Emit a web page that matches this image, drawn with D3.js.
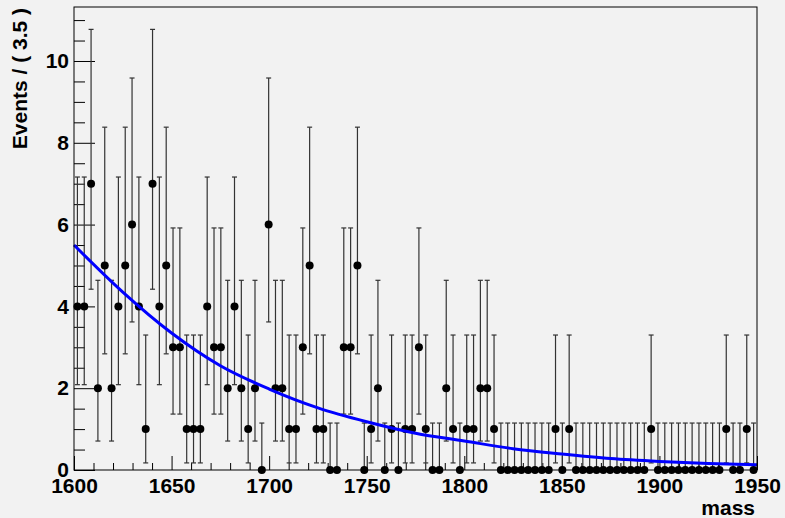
<!DOCTYPE html>
<html>
<head>
<meta charset="utf-8">
<script src="https://cdn.jsdelivr.net/npm/d3@7"></script>
<style>
  body { margin: 0; background: #f2f2f2; }
  svg { display: block; font-family: 'Liberation Sans', Arial, sans-serif; }
</style>
</head>
<body>
<svg id="canvas" width="785" height="518"></svg>
<script>
// events per 3.5 bin, 1600 -> 1950
let massMin = 1600
let massMax = 1950
let binWidth = 3.5
let counts = [
  4, 4, 7, 2, 5, 2, 4, 5, 6, 4,
  1, 7, 4, 5, 3, 3, 1, 1, 1, 4,
  3, 3, 2, 4, 2, 1, 2, 0, 6, 2,
  2, 1, 1, 3, 5, 1, 1, 0, 0, 3,
  3, 5, 0, 1, 2, 0, 1, 0, 1, 1,
  3, 1, 0, 0, 2, 1, 0, 1, 1, 2,
  2, 1, 0, 0, 0, 0, 0, 0, 0, 0,
  1, 0, 1, 0, 0, 0, 0, 0, 0, 0,
  0, 0, 0, 0, 1, 0, 0, 0, 0, 0,
  0, 0, 0, 0, 0, 1, 0, 0, 1, 0
]
// poisson 68% interval for n = 0..7
let poissonLow = [0, 0.173, 0.708, 1.367, 2.086, 2.840, 3.620, 4.420]
let poissonHigh = [1.148, 3.300, 4.638, 5.918, 7.163, 8.382, 9.584, 10.773]

// fitted curve
let curveMass = [1600, 1625, 1650, 1675, 1700, 1725, 1750, 1775, 1800, 1825, 1850, 1875, 1900, 1925, 1950]
let curveValues = [5.5, 4.35, 3.35, 2.55, 1.98, 1.52, 1.18, 0.9, 0.71, 0.52, 0.39, 0.28, 0.21, 0.16, 0.13]

let xTicks = [1600, 1650, 1700, 1750, 1800, 1850, 1900, 1950]
let yTicks = [0, 2, 4, 6, 8, 10]

let canvas = d3.select('#canvas')
let padLeft = 74, padRight = 757, padTop = 7, padBottom = 470

let x = d3.scaleLinear().domain([massMin, massMax]).range([padLeft, padRight])
let y = d3.scaleLinear().domain([0, 11.32]).range([padBottom, padTop])

let binCenter = (i) => massMin + (i + 0.5) * binWidth

// minor ticks
let xMinor = d3.range(massMin, massMax + 0.01, 10).filter(v => !xTicks.includes(v))
let yMinor = d3.range(0, 11.3, 0.5).filter(v => !yTicks.includes(v))

canvas.append('g')
  .attr('transform', `translate(0,${padBottom})`)
  .call(d3.axisBottom(x).tickValues(xMinor).tickSize(-7).tickSizeOuter(0).tickFormat(''))
  .call(g => g.select('.domain').remove())

canvas.append('g')
  .attr('transform', `translate(${padLeft},0)`)
  .call(d3.axisLeft(y).tickValues(yMinor).tickSize(-11).tickSizeOuter(0).tickFormat(''))
  .call(g => g.select('.domain').remove())

let xAxis = canvas.append('g')
  .attr('transform', `translate(0,${padBottom})`)
  .call(d3.axisBottom(x).tickValues(xTicks).tickSize(-14).tickSizeOuter(0).tickPadding(8).tickFormat(d3.format('d')))
xAxis.select('.domain').remove()
xAxis.selectAll('text')
  .attr('font-size', 21)
  .attr('font-weight', 'bold')
  .attr('fill', '#000')

let yAxis = canvas.append('g')
  .attr('transform', `translate(${padLeft},0)`)
  .call(d3.axisLeft(y).tickValues(yTicks).tickSize(-21).tickSizeOuter(0).tickPadding(5))
yAxis.select('.domain').remove()
yAxis.selectAll('text')
  .attr('font-size', 21)
  .attr('font-weight', 'bold')
  .attr('fill', '#000')

// error bars
let bars = canvas.append('g')
  .attr('stroke', '#333')
  .attr('stroke-width', 1.2)

bars.selectAll('line.err')
  .data(counts)
  .enter()
  .append('line')
  .attr('class', 'err')
  .attr('x1', (d, i) => x(binCenter(i)))
  .attr('x2', (d, i) => x(binCenter(i)))
  .attr('y1', (d) => y(poissonLow[d]))
  .attr('y2', (d) => y(poissonHigh[d]))

bars.selectAll('line.capHi')
  .data(counts)
  .enter()
  .append('line')
  .attr('class', 'capHi')
  .attr('x1', (d, i) => x(binCenter(i)) - 2.5)
  .attr('x2', (d, i) => x(binCenter(i)) + 2.5)
  .attr('y1', (d) => y(poissonHigh[d]))
  .attr('y2', (d) => y(poissonHigh[d]))

bars.selectAll('line.capLo')
  .data(counts)
  .enter()
  .append('line')
  .attr('class', 'capLo')
  .attr('x1', (d, i) => x(binCenter(i)) - 2.5)
  .attr('x2', (d, i) => x(binCenter(i)) + 2.5)
  .attr('y1', (d) => y(poissonLow[d]))
  .attr('y2', (d) => y(poissonLow[d]))

canvas.append('g')
  .selectAll('circle')
  .data(counts)
  .enter()
  .append('circle')
  .attr('cx', (d, i) => x(binCenter(i)))
  .attr('cy', (d) => y(d))
  .attr('r', 4)
  .attr('fill', '#000')

// fit curve
canvas.append('path')
  .datum(curveMass)
  .attr('fill', 'none')
  .attr('stroke', '#0000ff')
  .attr('stroke-width', 3)
  .attr('d', d3.line()
    .x((d) => x(d))
    .y((d, i) => y(curveValues[i]))
    .curve(d3.curveMonotoneX))

// frame
canvas.append('rect')
  .attr('x', padLeft)
  .attr('y', padTop)
  .attr('width', padRight - padLeft)
  .attr('height', padBottom - padTop)
  .attr('fill', 'none')
  .attr('stroke', '#000')
  .attr('stroke-width', 1)

canvas.append('text')
  .attr('x', 755)
  .attr('y', 515)
  .attr('text-anchor', 'end')
  .attr('font-size', 21)
  .attr('font-weight', 'bold')
  .text('mass')

canvas.append('text')
  .attr('transform', 'translate(27,8) rotate(-90)')
  .attr('text-anchor', 'end')
  .attr('font-size', 21)
  .attr('font-weight', 'bold')
  .text('Events / ( 3.5 )')
</script>
</body>
</html>
